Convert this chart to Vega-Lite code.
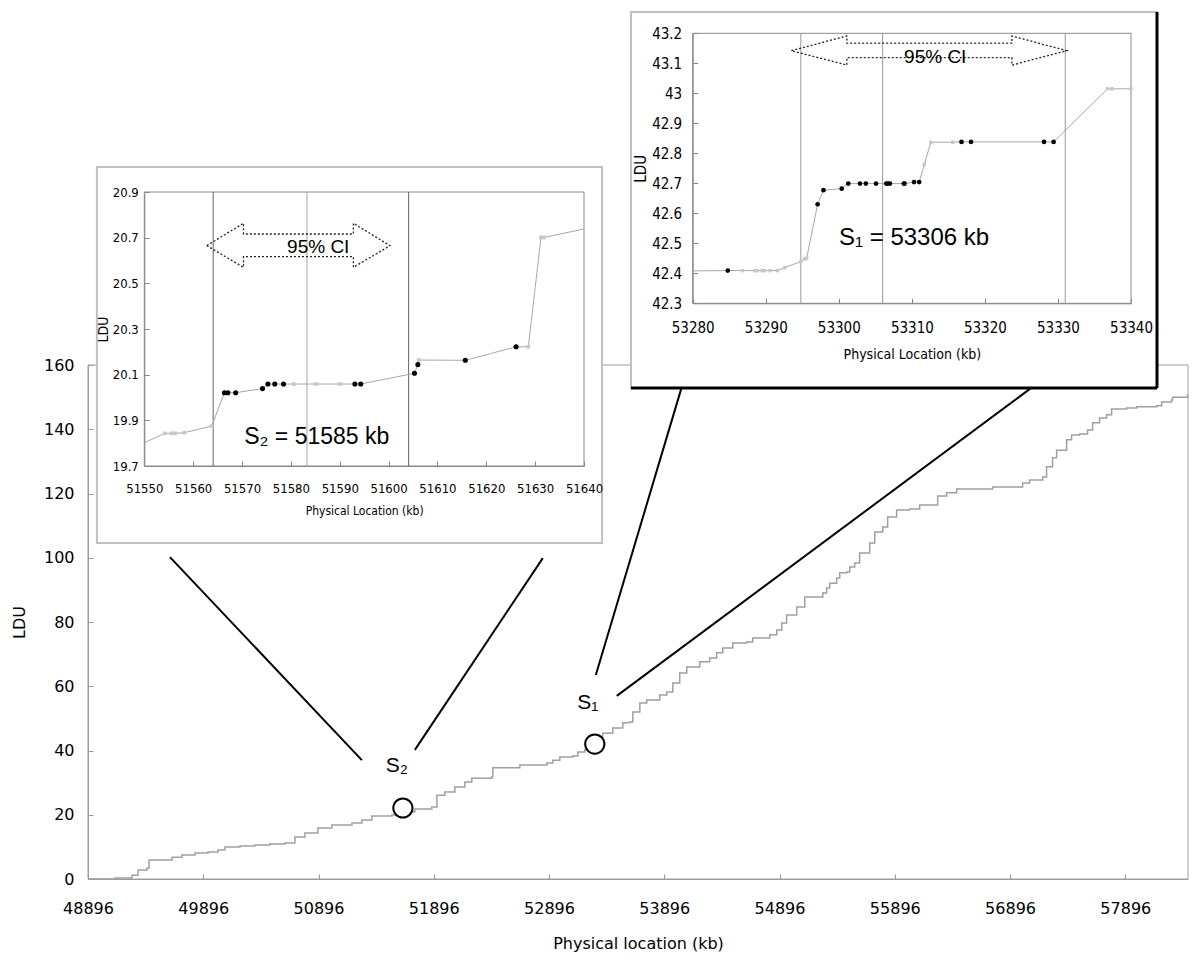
{
  "$schema": "https://vega.github.io/schema/vega-lite/v6.json",
  "width": 1200,
  "height": 968,
  "autosize": "none",
  "padding": 0,
  "background": "white",
  "config": {"view": {"stroke": null}, "axis": {"grid": false, "labelFlush": false, "labelOverlap": false}},
  "resolve": {"scale": {"x": "independent", "y": "independent"}},
  "datasets": {
    "main": [
      {"kb":48896,"ldu":0},{"kb":49130,"ldu":0.3},{"kb":49278,"ldu":1.2},{"kb":49330,"ldu":2.8},{"kb":49408,"ldu":3.4},{"kb":49425,"ldu":5.9},{"kb":49625,"ldu":6.8},{"kb":49711,"ldu":7.5},{"kb":49824,"ldu":8.1},{"kb":49937,"ldu":8.4},{"kb":50023,"ldu":9.0},{"kb":50084,"ldu":10.0},{"kb":50214,"ldu":10.3},{"kb":50344,"ldu":10.6},{"kb":50474,"ldu":10.9},{"kb":50605,"ldu":11.2},{"kb":50691,"ldu":13.1},{"kb":50778,"ldu":14.3},{"kb":50891,"ldu":15.9},{"kb":51012,"ldu":16.8},{"kb":51186,"ldu":17.4},{"kb":51272,"ldu":18.4},{"kb":51359,"ldu":19.6},{"kb":51533,"ldu":19.9},{"kb":51645,"ldu":20.9},{"kb":51732,"ldu":21.8},{"kb":51879,"ldu":22.4},{"kb":51923,"ldu":26.1},{"kb":51992,"ldu":27.1},{"kb":52079,"ldu":28.6},{"kb":52166,"ldu":30.2},{"kb":52226,"ldu":31.4},{"kb":52400,"ldu":31.8},{"kb":52409,"ldu":34.6},{"kb":52643,"ldu":35.5},{"kb":52877,"ldu":36.1},{"kb":52929,"ldu":37.0},{"kb":52990,"ldu":38.0},{"kb":53102,"ldu":38.3},{"kb":53146,"ldu":39.5},{"kb":53206,"ldu":40.2},{"kb":53267,"ldu":41.7},{"kb":53336,"ldu":43.9},{"kb":53362,"ldu":45.4},{"kb":53449,"ldu":47.0},{"kb":53536,"ldu":48.6},{"kb":53597,"ldu":48.9},{"kb":53623,"ldu":52.0},{"kb":53684,"ldu":54.8},{"kb":53744,"ldu":55.7},{"kb":53857,"ldu":57.3},{"kb":53918,"ldu":58.2},{"kb":53970,"ldu":61.0},{"kb":54030,"ldu":64.1},{"kb":54091,"ldu":66.0},{"kb":54204,"ldu":67.6},{"kb":54290,"ldu":68.8},{"kb":54351,"ldu":70.4},{"kb":54403,"ldu":71.9},{"kb":54490,"ldu":73.5},{"kb":54611,"ldu":73.8},{"kb":54663,"ldu":75.0},{"kb":54811,"ldu":76.0},{"kb":54872,"ldu":77.5},{"kb":54915,"ldu":79.7},{"kb":54958,"ldu":82.2},{"kb":55045,"ldu":84.7},{"kb":55115,"ldu":87.8},{"kb":55271,"ldu":89.0},{"kb":55305,"ldu":90.6},{"kb":55331,"ldu":92.1},{"kb":55392,"ldu":93.7},{"kb":55418,"ldu":95.3},{"kb":55479,"ldu":95.6},{"kb":55505,"ldu":97.1},{"kb":55548,"ldu":98.4},{"kb":55591,"ldu":101.5},{"kb":55678,"ldu":104.6},{"kb":55722,"ldu":108.0},{"kb":55791,"ldu":109.6},{"kb":55834,"ldu":112.7},{"kb":55912,"ldu":114.9},{"kb":56025,"ldu":115.2},{"kb":56112,"ldu":116.4},{"kb":56268,"ldu":119.2},{"kb":56346,"ldu":120.2},{"kb":56433,"ldu":121.4},{"kb":56745,"ldu":122.0},{"kb":57005,"ldu":123.3},{"kb":57066,"ldu":124.2},{"kb":57179,"ldu":125.1},{"kb":57213,"ldu":128.3},{"kb":57265,"ldu":131.1},{"kb":57300,"ldu":133.5},{"kb":57387,"ldu":136.7},{"kb":57430,"ldu":138.2},{"kb":57499,"ldu":138.5},{"kb":57569,"ldu":139.8},{"kb":57612,"ldu":142.0},{"kb":57673,"ldu":143.5},{"kb":57734,"ldu":144.5},{"kb":57777,"ldu":146.3},{"kb":57907,"ldu":146.6},{"kb":57994,"ldu":147.0},{"kb":58167,"ldu":147.3},{"kb":58211,"ldu":148.5},{"kb":58297,"ldu":149.1},{"kb":58306,"ldu":150.0},{"kb":58436,"ldu":151.0}
    ],
    "connectors": [
      {"x1":49607,"y1":100.2,"x2":51272,"y2":37.0},
      {"x1":52842,"y1":99.9,"x2":51732,"y2":40.2},
      {"x1":54048,"y1":153.2,"x2":53302,"y2":63.5},
      {"x1":57092,"y1":153.2,"x2":53484,"y2":57.0}
    ],
    "sites": [
      {"kb":51628,"ldu":22.1,"lx":51576,"ly":35.2,"t":"S₂"},
      {"kb":53293,"ldu":42.0,"lx":53232,"ly":54.8,"t":"S₁"}
    ],
    "a_pts": [
      {"x":51550,"y":19.802,"c":"n"},{"x":51554.2,"y":19.843,"c":"g"},{"x":51555.6,"y":19.843,"c":"g"},{"x":51556.3,"y":19.843,"c":"g"},{"x":51558.2,"y":19.846,"c":"g"},{"x":51563.8,"y":19.875,"c":"g"},{"x":51566.4,"y":20.021,"c":"b"},{"x":51567.1,"y":20.021,"c":"b"},{"x":51568.7,"y":20.021,"c":"b"},{"x":51574.2,"y":20.039,"c":"b"},{"x":51575.3,"y":20.059,"c":"b"},{"x":51576.7,"y":20.059,"c":"b"},{"x":51578.5,"y":20.059,"c":"b"},{"x":51580.6,"y":20.059,"c":"g"},{"x":51585.2,"y":20.059,"c":"g"},{"x":51590.1,"y":20.059,"c":"g"},{"x":51593.1,"y":20.059,"c":"b"},{"x":51594.3,"y":20.059,"c":"b"},{"x":51605.3,"y":20.106,"c":"b"},{"x":51606.0,"y":20.144,"c":"b"},{"x":51606.2,"y":20.164,"c":"g"},{"x":51615.7,"y":20.163,"c":"b"},{"x":51626.1,"y":20.222,"c":"b"},{"x":51628.6,"y":20.222,"c":"g"},{"x":51631.2,"y":20.701,"c":"g"},{"x":51631.8,"y":20.701,"c":"g"},{"x":51640,"y":20.738,"c":"n"}
    ],
    "a_lines": [{"x":51564.1,"c":"#666666"},{"x":51583.3,"c":"#a8a8a8"},{"x":51604.1,"c":"#666666"}],
    "a_arrow": [
      {"i":0,"x":51562.8,"y":20.665},{"i":1,"x":51570.3,"y":20.763},{"i":2,"x":51570.3,"y":20.716},{"i":3,"x":51592.8,"y":20.716},{"i":4,"x":51592.8,"y":20.763},{"i":5,"x":51600.3,"y":20.665},{"i":6,"x":51592.8,"y":20.570},{"i":7,"x":51592.8,"y":20.617},{"i":8,"x":51570.3,"y":20.617},{"i":9,"x":51570.3,"y":20.570},{"i":10,"x":51562.8,"y":20.665}
    ],
    "b_pts": [
      {"x":53280,"y":42.408,"c":"n"},{"x":53284.8,"y":42.409,"c":"b"},{"x":53286.8,"y":42.409,"c":"g"},{"x":53288.5,"y":42.409,"c":"g"},{"x":53288.8,"y":42.409,"c":"g"},{"x":53289.5,"y":42.409,"c":"g"},{"x":53289.8,"y":42.409,"c":"g"},{"x":53290.6,"y":42.409,"c":"g"},{"x":53291.6,"y":42.409,"c":"g"},{"x":53292.6,"y":42.419,"c":"g"},{"x":53294.8,"y":42.439,"c":"g"},{"x":53295.3,"y":42.448,"c":"g"},{"x":53295.6,"y":42.450,"c":"g"},{"x":53297.1,"y":42.630,"c":"b"},{"x":53297.9,"y":42.677,"c":"b"},{"x":53300.4,"y":42.682,"c":"b"},{"x":53301.3,"y":42.699,"c":"b"},{"x":53302.9,"y":42.699,"c":"b"},{"x":53303.7,"y":42.699,"c":"b"},{"x":53305.1,"y":42.699,"c":"b"},{"x":53306.5,"y":42.699,"c":"b"},{"x":53306.7,"y":42.699,"c":"b"},{"x":53307.0,"y":42.699,"c":"b"},{"x":53308.9,"y":42.699,"c":"b"},{"x":53309.0,"y":42.699,"c":"b"},{"x":53310.3,"y":42.704,"c":"b"},{"x":53311.0,"y":42.704,"c":"b"},{"x":53311.7,"y":42.762,"c":"g"},{"x":53312.6,"y":42.837,"c":"g"},{"x":53315.6,"y":42.837,"c":"g"},{"x":53316.8,"y":42.838,"c":"b"},{"x":53318.1,"y":42.838,"c":"b"},{"x":53328.1,"y":42.838,"c":"b"},{"x":53329.4,"y":42.838,"c":"b"},{"x":53336.8,"y":43.015,"c":"g"},{"x":53337.4,"y":43.015,"c":"g"},{"x":53340,"y":43.015,"c":"g"}
    ],
    "b_lines": [{"x":53294.8},{"x":53306.0},{"x":53331.0}],
    "b_arrow": [
      {"i":0,"x":53293.5,"y":43.142},{"i":1,"x":53301.1,"y":43.191},{"i":2,"x":53301.1,"y":43.167},{"i":3,"x":53323.7,"y":43.167},{"i":4,"x":53323.7,"y":43.191},{"i":5,"x":53331.2,"y":43.142},{"i":6,"x":53323.7,"y":43.094},{"i":7,"x":53323.7,"y":43.119},{"i":8,"x":53301.1,"y":43.119},{"i":9,"x":53301.1,"y":43.094},{"i":10,"x":53293.5,"y":43.142}
    ]
  },
  "layer": [
    {
      "data": {"values": [{}]},
      "mark": {"type": "rect", "fill": "white", "fillOpacity": 0, "stroke": "#a0a0a0", "strokeWidth": 1},
      "encoding": {
        "x": {"datum": 48896, "type": "quantitative", "scale": {"domain": [48896, 58440], "range": [88, 1188], "nice": false, "zero": false}, "axis": null},
        "x2": {"datum": 58440},
        "y": {"datum": 0, "type": "quantitative", "scale": {"domain": [0, 160], "range": [879, 365], "nice": false, "zero": false}, "axis": null},
        "y2": {"datum": 160}
      }
    },
    {
      "data": {"name": "main"},
      "mark": {"type": "line", "interpolate": "step-after", "color": "#a0a0a0", "strokeWidth": 1.5},
      "encoding": {
        "x": {"field": "kb", "type": "quantitative", "scale": {"domain": [48896, 58440], "range": [88, 1188], "nice": false, "zero": false},
          "axis": {"orient": "bottom", "offset": -89, "values": [48896, 49896, 50896, 51896, 52896, 53896, 54896, 55896, 56896, 57896], "format": "d",
            "title": "Physical location (kb)", "labelFont": "DejaVu Sans", "labelFontSize": 16, "labelColor": "#000", "labelPadding": 26,
            "tickSize": -5, "tickColor": "#999", "domainColor": "#999", "titleFont": "DejaVu Sans", "titleFontSize": 16, "titleFontWeight": "normal", "titleColor": "#000", "titlePadding": 19, "zindex": 0}},
        "y": {"field": "ldu", "type": "quantitative", "scale": {"domain": [0, 160], "range": [879, 365], "nice": false, "zero": false},
          "axis": {"orient": "left", "offset": -88, "values": [0, 20, 40, 60, 80, 100, 120, 140, 160], "format": "d",
            "title": "LDU", "labelFont": "DejaVu Sans", "labelFontSize": 16, "labelColor": "#000", "labelPadding": 19,
            "tickSize": -5, "tickColor": "#999", "domainColor": "#999", "titleFont": "DejaVu Sans", "titleFontSize": 16, "titleFontWeight": "normal", "titleColor": "#000", "titlePadding": 16, "zindex": 0}}
      }
    },
    {
      "data": {"name": "connectors"},
      "mark": {"type": "rule", "color": "black", "strokeWidth": 2},
      "encoding": {
        "x": {"field": "x1", "type": "quantitative", "scale": {"domain": [48896, 58440], "range": [88, 1188], "nice": false, "zero": false}, "axis": null},
        "x2": {"field": "x2"},
        "y": {"field": "y1", "type": "quantitative", "scale": {"domain": [0, 160], "range": [879, 365], "nice": false, "zero": false}, "axis": null},
        "y2": {"field": "y2"}
      }
    },
    {
      "data": {"name": "sites"},
      "mark": {"type": "point", "shape": "circle", "filled": true, "fill": "white", "stroke": "black", "strokeWidth": 2, "size": 370, "opacity": 1},
      "encoding": {
        "x": {"field": "kb", "type": "quantitative", "scale": {"domain": [48896, 58440], "range": [88, 1188], "nice": false, "zero": false}, "axis": null},
        "y": {"field": "ldu", "type": "quantitative", "scale": {"domain": [0, 160], "range": [879, 365], "nice": false, "zero": false}, "axis": null}
      }
    },
    {
      "data": {"name": "sites"},
      "mark": {"type": "text", "font": "Liberation Sans", "fontSize": 21, "color": "black"},
      "encoding": {
        "x": {"field": "lx", "type": "quantitative", "scale": {"domain": [48896, 58440], "range": [88, 1188], "nice": false, "zero": false}, "axis": null},
        "y": {"field": "ly", "type": "quantitative", "scale": {"domain": [0, 160], "range": [879, 365], "nice": false, "zero": false}, "axis": null},
        "text": {"field": "t"}
      }
    },

    {
      "data": {"values": [{}]},
      "mark": {"type": "rect", "fill": "white", "stroke": "#c0c0c0", "strokeWidth": 2},
      "encoding": {
        "x": {"datum": 51540.3, "type": "quantitative", "scale": {"domain": [51550, 51640], "range": [144.3, 584], "nice": false, "zero": false}, "axis": null},
        "x2": {"datum": 51643.7},
        "y": {"datum": 19.363, "type": "quantitative", "scale": {"domain": [19.7, 20.9], "range": [466, 192], "nice": false, "zero": false}, "axis": null},
        "y2": {"datum": 21.01}
      }
    },
    {
      "data": {"values": [{}]},
      "mark": {"type": "rect", "fill": "white", "fillOpacity": 0, "stroke": "#8a8a8a", "strokeWidth": 1},
      "encoding": {
        "x": {"datum": 51550, "type": "quantitative", "scale": {"domain": [51550, 51640], "range": [144.3, 584], "nice": false, "zero": false}, "axis": null},
        "x2": {"datum": 51640},
        "y": {"datum": 19.7, "type": "quantitative", "scale": {"domain": [19.7, 20.9], "range": [466, 192], "nice": false, "zero": false}, "axis": null},
        "y2": {"datum": 20.9}
      }
    },
    {
      "data": {"name": "a_lines"},
      "mark": {"type": "rule", "strokeWidth": 1},
      "encoding": {
        "x": {"field": "x", "type": "quantitative", "scale": {"domain": [51550, 51640], "range": [144.3, 584], "nice": false, "zero": false}, "axis": null},
        "y": {"datum": 19.7, "type": "quantitative", "scale": {"domain": [19.7, 20.9], "range": [466, 192], "nice": false, "zero": false}, "axis": null},
        "y2": {"datum": 20.9},
        "color": {"field": "c", "type": "nominal", "scale": null}
      }
    },
    {
      "data": {"name": "a_arrow"},
      "mark": {"type": "line", "color": "#222", "strokeWidth": 1.3, "strokeDash": [2, 2]},
      "encoding": {
        "x": {"field": "x", "type": "quantitative", "scale": {"domain": [51550, 51640], "range": [144.3, 584], "nice": false, "zero": false}, "axis": null},
        "y": {"field": "y", "type": "quantitative", "scale": {"domain": [19.7, 20.9], "range": [466, 192], "nice": false, "zero": false}, "axis": null},
        "order": {"field": "i", "type": "quantitative"}
      }
    },
    {
      "data": {"values": [{"x": 51585.6, "y": 20.658, "t": "95% CI"}]},
      "mark": {"type": "text", "font": "Liberation Sans", "fontSize": 19, "color": "black"},
      "encoding": {
        "x": {"field": "x", "type": "quantitative", "scale": {"domain": [51550, 51640], "range": [144.3, 584], "nice": false, "zero": false}, "axis": null},
        "y": {"field": "y", "type": "quantitative", "scale": {"domain": [19.7, 20.9], "range": [466, 192], "nice": false, "zero": false}, "axis": null},
        "text": {"field": "t"}
      }
    },
    {
      "data": {"values": [{"x": 51585.3, "y": 19.828, "t": "S₂ = 51585 kb"}]},
      "mark": {"type": "text", "font": "Liberation Sans", "fontSize": 23, "color": "black"},
      "encoding": {
        "x": {"field": "x", "type": "quantitative", "scale": {"domain": [51550, 51640], "range": [144.3, 584], "nice": false, "zero": false}, "axis": null},
        "y": {"field": "y", "type": "quantitative", "scale": {"domain": [19.7, 20.9], "range": [466, 192], "nice": false, "zero": false}, "axis": null},
        "text": {"field": "t"}
      }
    },
    {
      "data": {"name": "a_pts"},
      "mark": {"type": "line", "color": "#a8a8a8", "strokeWidth": 1},
      "encoding": {
        "x": {"field": "x", "type": "quantitative", "scale": {"domain": [51550, 51640], "range": [144.3, 584], "nice": false, "zero": false},
          "axis": {"orient": "bottom", "offset": -502, "values": [51550, 51560, 51570, 51580, 51590, 51600, 51610, 51620, 51630, 51640], "format": "d",
            "title": "Physical Location (kb)", "labelFont": "DejaVu Sans Condensed, Liberation Sans", "labelFontSize": 13, "labelColor": "#000", "labelPadding": 21,
            "tickSize": -5, "tickColor": "#888", "domainColor": "#888", "titleFont": "DejaVu Sans Condensed, Liberation Sans", "titleFontSize": 12, "titleFontWeight": "normal", "titleColor": "#000", "titlePadding": 10, "zindex": 1}},
        "y": {"field": "y", "type": "quantitative", "scale": {"domain": [19.7, 20.9], "range": [466, 192], "nice": false, "zero": false},
          "axis": {"orient": "left", "offset": -144.3, "values": [19.7, 19.9, 20.1, 20.3, 20.5, 20.7, 20.9], "format": ".1f",
            "title": "LDU", "labelFont": "DejaVu Sans Condensed, Liberation Sans", "labelFontSize": 13, "labelColor": "#000", "labelPadding": 11,
            "tickSize": -5, "tickColor": "#888", "domainColor": "#888", "titleFont": "DejaVu Sans Condensed, Liberation Sans", "titleFontSize": 14, "titleFontWeight": "normal", "titleColor": "#000", "titlePadding": 2, "zindex": 1}}
      }
    },
    {
      "data": {"name": "a_pts"},
      "transform": [{"filter": "datum.c == 'g'"}],
      "mark": {"type": "square", "color": "#c8c8c8", "size": 14, "opacity": 1},
      "encoding": {
        "x": {"field": "x", "type": "quantitative", "scale": {"domain": [51550, 51640], "range": [144.3, 584], "nice": false, "zero": false}, "axis": null},
        "y": {"field": "y", "type": "quantitative", "scale": {"domain": [19.7, 20.9], "range": [466, 192], "nice": false, "zero": false}, "axis": null}
      }
    },
    {
      "data": {"name": "a_pts"},
      "transform": [{"filter": "datum.c == 'b'"}],
      "mark": {"type": "circle", "color": "black", "size": 26, "opacity": 1},
      "encoding": {
        "x": {"field": "x", "type": "quantitative", "scale": {"domain": [51550, 51640], "range": [144.3, 584], "nice": false, "zero": false}, "axis": null},
        "y": {"field": "y", "type": "quantitative", "scale": {"domain": [19.7, 20.9], "range": [466, 192], "nice": false, "zero": false}, "axis": null}
      }
    },

    {
      "data": {"values": [{}]},
      "mark": {"type": "rect", "fill": "white", "stroke": "#c0c0c0", "strokeWidth": 2},
      "encoding": {
        "x": {"datum": 53271.55, "type": "quantitative", "scale": {"domain": [53280, 53340], "range": [692.7, 1131], "nice": false, "zero": false}, "axis": null},
        "x2": {"datum": 53343.56},
        "y": {"datum": 42.0177, "type": "quantitative", "scale": {"domain": [42.3, 43.2], "range": [303.3, 33.3], "nice": false, "zero": false}, "axis": null},
        "y2": {"datum": 43.271}
      }
    },
    {
      "data": {"values": [{"x1": 53343.56, "y1": 43.271, "x2": 53343.56, "y2": 42.0177}, {"x1": 53271.55, "y1": 42.0177, "x2": 53343.56, "y2": 42.0177}]},
      "mark": {"type": "rule", "color": "black", "strokeWidth": 3},
      "encoding": {
        "x": {"field": "x1", "type": "quantitative", "scale": {"domain": [53280, 53340], "range": [692.7, 1131], "nice": false, "zero": false}, "axis": null},
        "x2": {"field": "x2"},
        "y": {"field": "y1", "type": "quantitative", "scale": {"domain": [42.3, 43.2], "range": [303.3, 33.3], "nice": false, "zero": false}, "axis": null},
        "y2": {"field": "y2"}
      }
    },
    {
      "data": {"values": [{}]},
      "mark": {"type": "rect", "fill": "white", "fillOpacity": 0, "stroke": "#8a8a8a", "strokeWidth": 1},
      "encoding": {
        "x": {"datum": 53280, "type": "quantitative", "scale": {"domain": [53280, 53340], "range": [692.7, 1131], "nice": false, "zero": false}, "axis": null},
        "x2": {"datum": 53340},
        "y": {"datum": 42.3, "type": "quantitative", "scale": {"domain": [42.3, 43.2], "range": [303.3, 33.3], "nice": false, "zero": false}, "axis": null},
        "y2": {"datum": 43.2}
      }
    },
    {
      "data": {"name": "b_lines"},
      "mark": {"type": "rule", "strokeWidth": 1, "color": "#999"},
      "encoding": {
        "x": {"field": "x", "type": "quantitative", "scale": {"domain": [53280, 53340], "range": [692.7, 1131], "nice": false, "zero": false}, "axis": null},
        "y": {"datum": 42.3, "type": "quantitative", "scale": {"domain": [42.3, 43.2], "range": [303.3, 33.3], "nice": false, "zero": false}, "axis": null},
        "y2": {"datum": 43.2}
      }
    },
    {
      "data": {"name": "b_arrow"},
      "mark": {"type": "line", "color": "#222", "strokeWidth": 1.3, "strokeDash": [2, 2]},
      "encoding": {
        "x": {"field": "x", "type": "quantitative", "scale": {"domain": [53280, 53340], "range": [692.7, 1131], "nice": false, "zero": false}, "axis": null},
        "y": {"field": "y", "type": "quantitative", "scale": {"domain": [42.3, 43.2], "range": [303.3, 33.3], "nice": false, "zero": false}, "axis": null},
        "order": {"field": "i", "type": "quantitative"}
      }
    },
    {
      "data": {"values": [{"x": 53313.2, "y": 43.122, "t": "95% CI"}]},
      "mark": {"type": "text", "font": "Liberation Sans", "fontSize": 19, "color": "black"},
      "encoding": {
        "x": {"field": "x", "type": "quantitative", "scale": {"domain": [53280, 53340], "range": [692.7, 1131], "nice": false, "zero": false}, "axis": null},
        "y": {"field": "y", "type": "quantitative", "scale": {"domain": [42.3, 43.2], "range": [303.3, 33.3], "nice": false, "zero": false}, "axis": null},
        "text": {"field": "t"}
      }
    },
    {
      "data": {"values": [{"x": 53310.3, "y": 42.517, "t": "S₁ = 53306 kb"}]},
      "mark": {"type": "text", "font": "Liberation Sans", "fontSize": 24, "color": "black"},
      "encoding": {
        "x": {"field": "x", "type": "quantitative", "scale": {"domain": [53280, 53340], "range": [692.7, 1131], "nice": false, "zero": false}, "axis": null},
        "y": {"field": "y", "type": "quantitative", "scale": {"domain": [42.3, 43.2], "range": [303.3, 33.3], "nice": false, "zero": false}, "axis": null},
        "text": {"field": "t"}
      }
    },
    {
      "data": {"name": "b_pts"},
      "mark": {"type": "line", "color": "#a8a8a8", "strokeWidth": 1},
      "encoding": {
        "x": {"field": "x", "type": "quantitative", "scale": {"domain": [53280, 53340], "range": [692.7, 1131], "nice": false, "zero": false},
          "axis": {"orient": "bottom", "offset": -664.7, "values": [53280, 53290, 53300, 53310, 53320, 53330, 53340], "format": "d",
            "title": "Physical Location (kb)", "labelFont": "DejaVu Sans Condensed, Liberation Sans", "labelFontSize": 15, "labelColor": "#000", "labelPadding": 22,
            "tickSize": -5, "tickColor": "#888", "domainColor": "#888", "titleFont": "DejaVu Sans Condensed, Liberation Sans", "titleFontSize": 14, "titleFontWeight": "normal", "titleColor": "#000", "titlePadding": 12, "zindex": 1}},
        "y": {"field": "y", "type": "quantitative", "scale": {"domain": [42.3, 43.2], "range": [303.3, 33.3], "nice": false, "zero": false},
          "axis": {"orient": "left", "offset": -692.7, "values": [42.3, 42.4, 42.5, 42.6, 42.7, 42.8, 42.9, 43, 43.1, 43.2], "format": "~g",
            "title": "LDU", "labelFont": "DejaVu Sans Condensed, Liberation Sans", "labelFontSize": 15, "labelColor": "#000", "labelPadding": 16,
            "tickSize": -5, "tickColor": "#888", "domainColor": "#888", "titleFont": "DejaVu Sans Condensed, Liberation Sans", "titleFontSize": 15, "titleFontWeight": "normal", "titleColor": "#000", "titlePadding": 3, "zindex": 1}}
      }
    },
    {
      "data": {"name": "b_pts"},
      "transform": [{"filter": "datum.c == 'g'"}],
      "mark": {"type": "square", "color": "#c8c8c8", "size": 12, "opacity": 1},
      "encoding": {
        "x": {"field": "x", "type": "quantitative", "scale": {"domain": [53280, 53340], "range": [692.7, 1131], "nice": false, "zero": false}, "axis": null},
        "y": {"field": "y", "type": "quantitative", "scale": {"domain": [42.3, 43.2], "range": [303.3, 33.3], "nice": false, "zero": false}, "axis": null}
      }
    },
    {
      "data": {"name": "b_pts"},
      "transform": [{"filter": "datum.c == 'b'"}],
      "mark": {"type": "circle", "color": "black", "size": 22, "opacity": 1},
      "encoding": {
        "x": {"field": "x", "type": "quantitative", "scale": {"domain": [53280, 53340], "range": [692.7, 1131], "nice": false, "zero": false}, "axis": null},
        "y": {"field": "y", "type": "quantitative", "scale": {"domain": [42.3, 43.2], "range": [303.3, 33.3], "nice": false, "zero": false}, "axis": null}
      }
    }
  ]
}
